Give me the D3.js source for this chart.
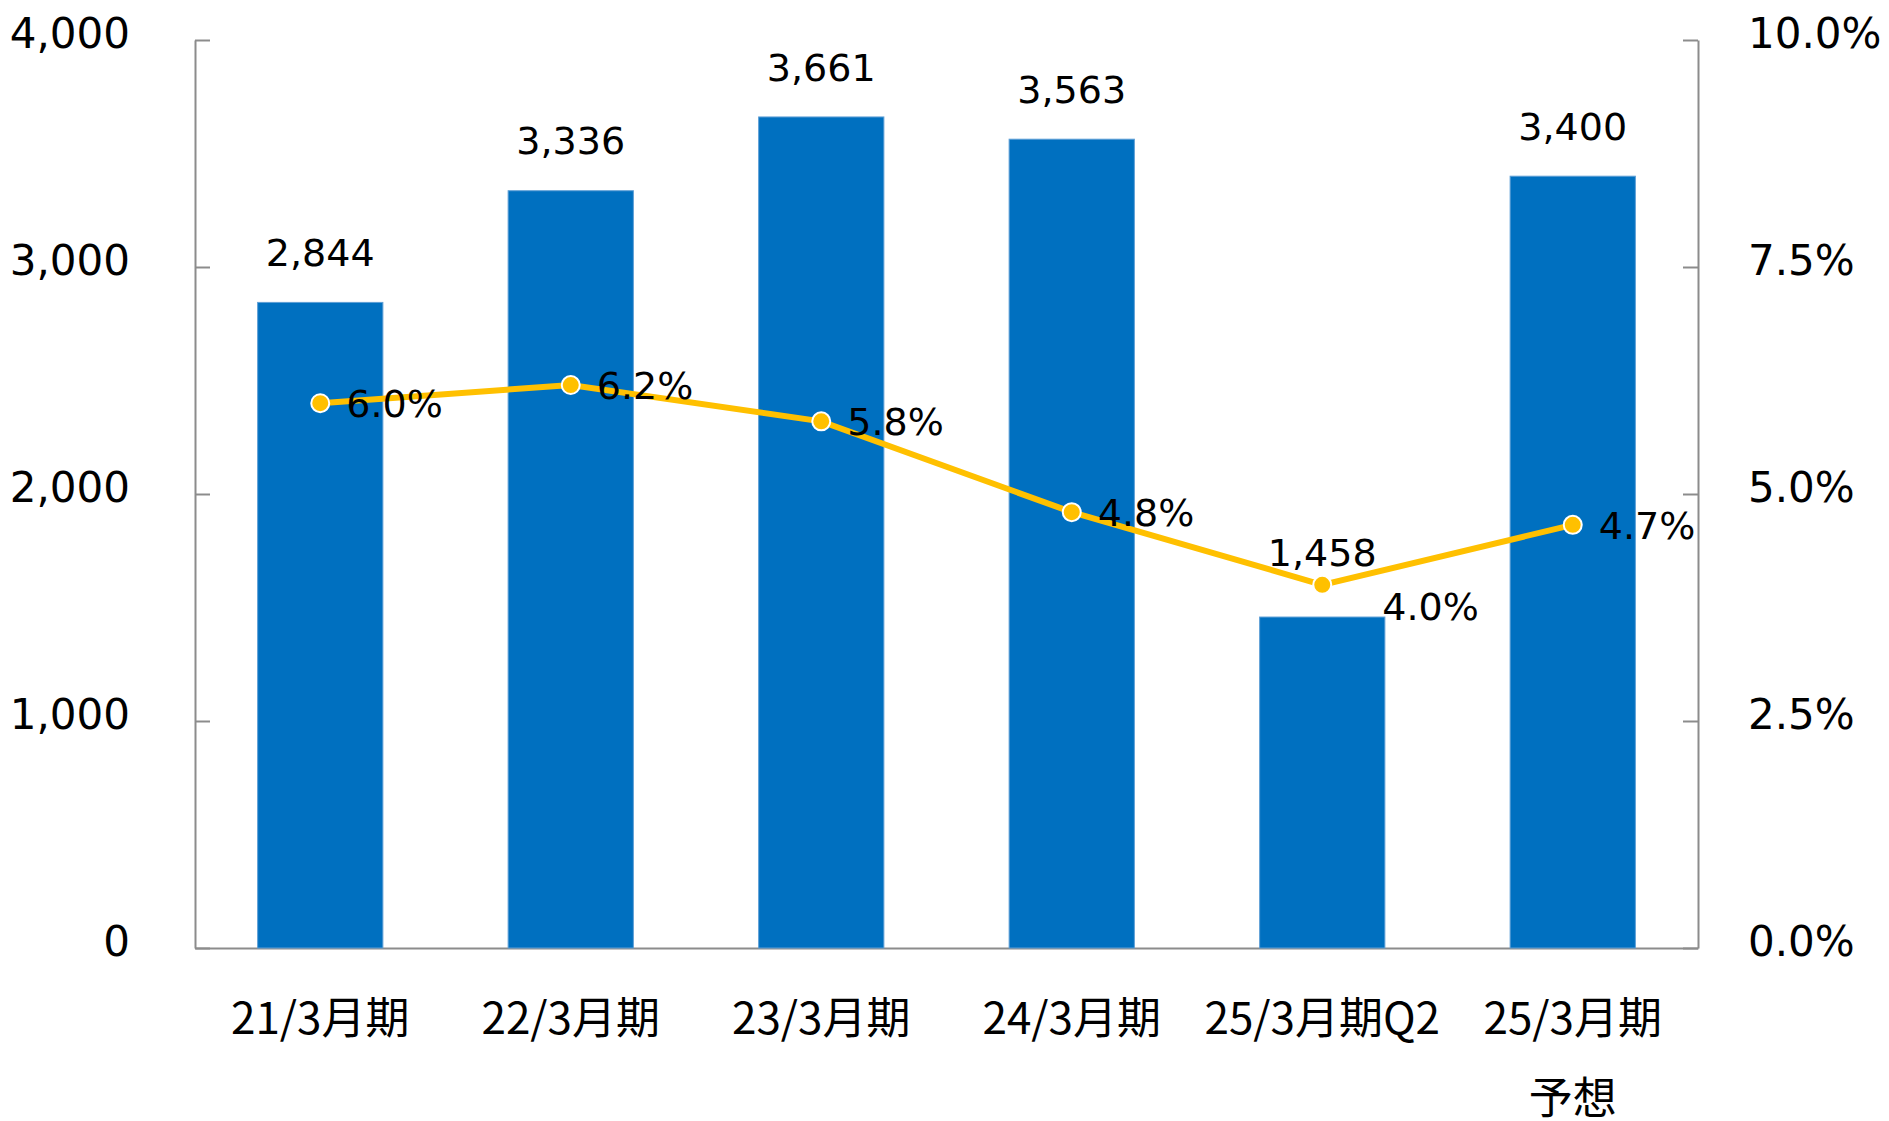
<!doctype html>
<html lang="ja">
<head>
<meta charset="utf-8">
<title>21/3月期 - 25/3月期予想</title>
<style>
  body { margin: 0; background: #fff; }
  .axis path, .axis line { stroke: #8c8c8c; stroke-width: 2px; }
  .axis text { font-family: "DejaVu Sans", Verdana, sans-serif; font-size: 42px; fill: #000; }
  .axis--x text { font-family: "Noto Sans CJK JP", sans-serif; font-size: 44px; }
  .bar { fill: #0070c0; stroke: #5f9fd6; stroke-width: 1px; }
  .line { fill: none; stroke: #ffc000; stroke-width: 6px; }
  .dot { fill: #ffc000; stroke: #fff; stroke-width: 2px; }
  .lbl { font-family: "DejaVu Sans", Verdana, sans-serif; font-size: 38px; fill: #000; }
</style>
</head>
<body>
<svg width="1889" height="1121"></svg>
<script src="https://cdn.jsdelivr.net/npm/d3@7/dist/d3.min.js"></script>
<script>

// データ
var categories = ["21/3月期", "22/3月期", "23/3月期", "24/3月期", "25/3月期Q2", "25/3月期\n予想"];
var amounts = [2844, 3336, 3661, 3563, 1458, 3400];
var ratios = [6.0, 6.2, 5.8, 4.8, 4.0, 4.66];
var leftTicks = [0, 1000, 2000, 3000, 4000];
var rightTicks = [0, 2.5, 5.0, 7.5, 10.0];

var svg = d3.select("svg"),
    plotLeft = 195, plotRight = 1698, plotTop = 40, plotBottom = 948;

var x = d3.scaleBand().domain(categories).range([plotLeft, plotRight]).paddingInner(0.5).paddingOuter(0.25),
    yL = d3.scaleLinear().domain([0, 4000]).range([plotBottom, plotTop]),
    yR = d3.scaleLinear().domain([0, 10]).range([plotBottom, plotTop]);

var cx = function(i) { return x(categories[i]) + x.bandwidth() / 2; };

// 軸
svg.append("g")
    .attr("class", "axis axis--x")
    .attr("transform", "translate(0," + plotBottom + ")")
    .call(d3.axisBottom(x).tickSize(0).tickSizeOuter(0))
  .selectAll("text")
    .attr("y", 0).attr("dy", null)
    .each(function(d) {
      var t = d3.select(this).text(null);
      d.split("\n").forEach(function(s, k) {
        t.append("tspan").attr("x", 0).attr("y", 86 + k * 80).text(s);
      });
    });

svg.append("g")
    .attr("class", "axis axis--y")
    .attr("transform", "translate(" + plotLeft + ",0)")
    .call(d3.axisLeft(yL).tickValues(leftTicks).tickFormat(d3.format(",")).tickSize(-15).tickSizeOuter(0).tickPadding(65))
  .selectAll("text").attr("y", -6);

svg.append("g")
    .attr("class", "axis axis--y2")
    .attr("transform", "translate(" + plotRight + ",0)")
    .call(d3.axisRight(yR).tickValues(rightTicks).tickFormat(function(d) { return d.toFixed(1) + "%"; }).tickSize(-15).tickSizeOuter(0).tickPadding(50))
  .selectAll("text").attr("y", -6);

// 棒
svg.selectAll(".bar")
  .data(amounts)
  .enter().append("rect")
    .attr("class", "bar")
    .attr("x", function(d, i) { return x(categories[i]); })
    .attr("y", function(d) { return yL(d); })
    .attr("width", x.bandwidth())
    .attr("height", function(d) { return plotBottom - yL(d); });

svg.selectAll(".lbl-bar")
  .data(amounts)
  .enter().append("text")
    .attr("class", "lbl lbl-bar")
    .attr("text-anchor", "middle")
    .attr("x", function(d, i) { return cx(i); })
    .attr("y", function(d, i) { return yL(d) - (i == 4 ? 65 : 50); })
    .attr("dy", "0.36em")
    .text(d3.format(","));

// 折れ線
var line = d3.line()
    .x(function(d, i) { return cx(i); })
    .y(function(d) { return yR(d); });

svg.append("path")
    .datum(ratios)
    .attr("class", "line")
    .attr("d", line);

svg.selectAll(".dot")
  .data(ratios)
  .enter().append("circle")
    .attr("class", "dot")
    .attr("r", 9)
    .attr("cx", function(d, i) { return cx(i); })
    .attr("cy", function(d) { return yR(d); });

svg.selectAll(".lbl-pct")
  .data(ratios)
  .enter().append("text")
    .attr("class", "lbl lbl-pct")
    .attr("x", function(d, i) { return cx(i) + (i == 4 ? 60 : 26); })
    .attr("y", function(d, i) { return yR(d) + (i == 4 ? 22 : 0); })
    .attr("dy", "0.36em")
    .text(function(d) { return d.toFixed(1) + "%"; });

</script>
</body>
</html>
